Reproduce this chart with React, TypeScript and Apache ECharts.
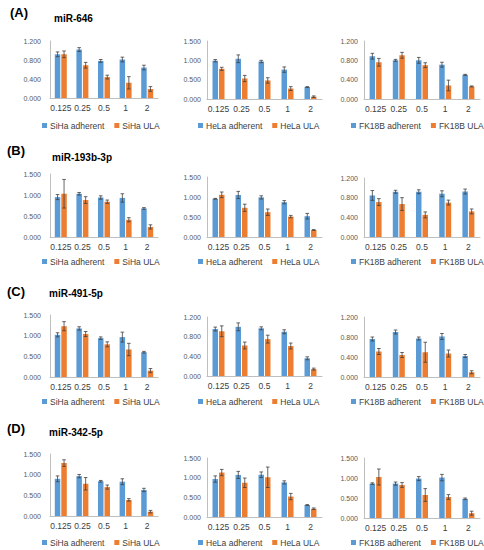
import React, { useEffect, useRef } from "react";
import * as echarts from "echarts";

const doses = ["0.125", "0.25", "0.5", "1", "2"];
const panelLetters = ["(A)", "(B)", "(C)", "(D)"];
const mirNames = ["miR-646", "miR-193b-3p", "miR-491-5p", "miR-342-5p"];
const cellLines = ["SiHa", "HeLa", "FK18B"];

// (A) miR-646
const A_SiHa_adh = [0.92, 1.02, 0.78, 0.81, 0.64];
const A_SiHa_adhErr = [0.05, 0.04, 0.03, 0.05, 0.05];
const A_SiHa_ula = [0.92, 0.69, 0.44, 0.32, 0.19];
const A_SiHa_ulaErr = [0.07, 0.06, 0.04, 0.13, 0.05];
const A_HeLa_adh = [0.99, 1.04, 0.97, 0.76, 0.31];
const A_HeLa_adhErr = [0.03, 0.1, 0.03, 0.07, 0.01];
const A_HeLa_ula = [0.78, 0.53, 0.48, 0.27, 0.06];
const A_HeLa_ulaErr = [0.04, 0.08, 0.07, 0.05, 0.02];
const A_FK18B_adh = [0.885, 0.8, 0.8, 0.71, 0.5];
const A_FK18B_adhErr = [0.06, 0.02, 0.06, 0.05, 0.01];
const A_FK18B_ula = [0.76, 0.905, 0.7, 0.28, 0.26];
const A_FK18B_ulaErr = [0.08, 0.06, 0.05, 0.11, 0.01];

// (B) miR-193b-3p
const B_SiHa_adh = [0.95, 1.03, 0.94, 0.93, 0.68];
const B_SiHa_adhErr = [0.06, 0.03, 0.04, 0.1, 0.02];
const B_SiHa_ula = [1.03, 0.88, 0.84, 0.41, 0.24];
const B_SiHa_ulaErr = [0.34, 0.08, 0.04, 0.05, 0.05];
const B_HeLa_adh = [0.955, 1.05, 0.99, 0.87, 0.52];
const B_HeLa_adhErr = [0.01, 0.09, 0.04, 0.04, 0.07];
const B_HeLa_ula = [1.055, 0.73, 0.62, 0.51, 0.175];
const B_HeLa_ulaErr = [0.07, 0.09, 0.08, 0.03, 0.01];
const B_FK18B_adh = [0.845, 0.92, 0.92, 0.88, 0.925];
const B_FK18B_adhErr = [0.1, 0.03, 0.04, 0.06, 0.05];
const B_FK18B_ula = [0.71, 0.67, 0.45, 0.7, 0.52];
const B_FK18B_ulaErr = [0.07, 0.13, 0.06, 0.05, 0.05];

// (C) miR-491-5p
const C_SiHa_adh = [1.02, 1.175, 0.94, 0.965, 0.6];
const C_SiHa_adhErr = [0.05, 0.04, 0.03, 0.12, 0.02];
const C_SiHa_ula = [1.23, 1.04, 0.79, 0.665, 0.155];
const C_SiHa_ulaErr = [0.11, 0.06, 0.06, 0.15, 0.05];
const C_HeLa_adh = [0.955, 1.0, 0.97, 0.9, 0.36];
const C_HeLa_adhErr = [0.04, 0.08, 0.03, 0.04, 0.03];
const C_HeLa_ula = [0.91, 0.62, 0.75, 0.61, 0.14];
const C_HeLa_ulaErr = [0.11, 0.07, 0.08, 0.06, 0.02];
const C_FK18B_adh = [0.76, 0.9, 0.77, 0.81, 0.42];
const C_FK18B_adhErr = [0.04, 0.04, 0.03, 0.06, 0.03];
const C_FK18B_ula = [0.51, 0.44, 0.495, 0.47, 0.095];
const C_FK18B_ulaErr = [0.06, 0.05, 0.2, 0.07, 0.03];

// (D) miR-342-5p
const D_SiHa_adh = [0.9, 0.965, 0.84, 0.83, 0.63];
const D_SiHa_adhErr = [0.07, 0.04, 0.02, 0.07, 0.04];
const D_SiHa_ula = [1.28, 0.78, 0.7, 0.39, 0.105];
const D_SiHa_ulaErr = [0.08, 0.15, 0.05, 0.03, 0.03];
const D_HeLa_adh = [0.965, 1.07, 1.075, 0.88, 0.305];
const D_HeLa_adhErr = [0.08, 0.09, 0.07, 0.04, 0.01];
const D_HeLa_ula = [1.13, 0.87, 1.01, 0.52, 0.21];
const D_HeLa_ulaErr = [0.08, 0.12, 0.26, 0.08, 0.02];
const D_FK18B_adh = [0.86, 0.86, 0.985, 1.01, 0.48];
const D_FK18B_adhErr = [0.02, 0.04, 0.05, 0.08, 0.02];
const D_FK18B_ula = [1.025, 0.825, 0.575, 0.525, 0.12];
const D_FK18B_ulaErr = [0.2, 0.06, 0.16, 0.06, 0.05];

// y-axis maxima per panel row
const yMaxA = [1.2, 1.5, 1.2];
const yMaxB = [1.5, 1.5, 1.2];
const yMaxC = [1.5, 1.2, 1.2];
const yMaxD = [1.5, 1.5, 1.5];

const panels = [
  [
    [A_SiHa_adh, A_SiHa_adhErr, A_SiHa_ula, A_SiHa_ulaErr],
    [A_HeLa_adh, A_HeLa_adhErr, A_HeLa_ula, A_HeLa_ulaErr],
    [A_FK18B_adh, A_FK18B_adhErr, A_FK18B_ula, A_FK18B_ulaErr],
  ],
  [
    [B_SiHa_adh, B_SiHa_adhErr, B_SiHa_ula, B_SiHa_ulaErr],
    [B_HeLa_adh, B_HeLa_adhErr, B_HeLa_ula, B_HeLa_ulaErr],
    [B_FK18B_adh, B_FK18B_adhErr, B_FK18B_ula, B_FK18B_ulaErr],
  ],
  [
    [C_SiHa_adh, C_SiHa_adhErr, C_SiHa_ula, C_SiHa_ulaErr],
    [C_HeLa_adh, C_HeLa_adhErr, C_HeLa_ula, C_HeLa_ulaErr],
    [C_FK18B_adh, C_FK18B_adhErr, C_FK18B_ula, C_FK18B_ulaErr],
  ],
  [
    [D_SiHa_adh, D_SiHa_adhErr, D_SiHa_ula, D_SiHa_ulaErr],
    [D_HeLa_adh, D_HeLa_adhErr, D_HeLa_ula, D_HeLa_ulaErr],
    [D_FK18B_adh, D_FK18B_adhErr, D_FK18B_ula, D_FK18B_ulaErr],
  ],
];
const yMaxes = [yMaxA, yMaxB, yMaxC, yMaxD];

// layout
const colLeft = [50, 207, 364];
const colWidth = [108, 115, 116];
const colLabelMargin = [9, 6, 6];
const gridTopBottom = [
  [[41, 98], [41, 99], [41, 99]],
  [[174, 237], [177, 237], [178, 237]],
  [[315, 377], [317, 376], [317, 377]],
  [[454, 516], [458, 517], [458, 518]],
];
const legendY = [126, 262, 402, 543];
const legendLeft = [42, 198, 351];
const letterPos = [[10, 13], [7, 151], [7, 292], [7, 429]];
const mirPos = [[54, 19], [52, 158], [49, 294], [49, 433]];

const BLUE = "#5B9BD5";
const ORANGE = "#ED7D31";
const FONT = "Liberation Sans, Arial, sans-serif";
const BAR_W = 5.5;
const BAR_GAP = 1;

function App() {
  const ref = useRef<HTMLDivElement>(null);
  useEffect(() => {
    document.body.style.margin = "0";
    if (!ref.current) return;
    const chart = echarts.init(ref.current, undefined, { renderer: "svg" });
    const grid: any[] = [];
    const xAxis: any[] = [];
    const yAxis: any[] = [];
    const series: any[] = [];
    const legend: any[] = [];
    const graphic: any[] = [];
    let idx = 0;
    panels.forEach((row, r) => {
      row.forEach((p, c) => {
        const [t, b] = gridTopBottom[r][c];
        grid.push({ left: colLeft[c], width: colWidth[c], top: t, height: b - t });
        xAxis.push({
          type: "category",
          gridIndex: idx,
          data: doses,
          axisLine: { lineStyle: { color: "#BFBFBF", width: 1 } },
          axisTick: { show: false },
          axisLabel: { fontSize: 8.5, color: "#404040", margin: 5, fontFamily: FONT, interval: 0 },
        });
        const mx = yMaxes[r][c];
        const iv = mx === 1.2 ? 0.4 : 0.5;
        yAxis.push({
          type: "value",
          gridIndex: idx,
          min: 0,
          max: mx,
          interval: iv,
          axisLine: { show: true, lineStyle: { color: "#BFBFBF", width: 1 } },
          axisTick: { show: false },
          splitLine: { show: false },
          axisLabel: {
            fontSize: 7,
            color: "#595959",
            margin: colLabelMargin[c],
            fontFamily: FONT,
            formatter: (v: number) => v.toFixed(3),
          },
        });
        const cell = cellLines[c];
        const [adh, adhErr, ula, ulaErr] = p;
        const nameA = `${cell} adherent`;
        const nameU = `${cell} ULA`;
        series.push({
          type: "bar",
          name: nameA,
          xAxisIndex: idx,
          yAxisIndex: idx,
          data: adh,
          barWidth: BAR_W,
          barGap: `${(BAR_GAP / BAR_W) * 100}%`,
          itemStyle: { color: BLUE },
        });
        series.push({
          type: "bar",
          name: nameU,
          xAxisIndex: idx,
          yAxisIndex: idx,
          data: ula,
          barWidth: BAR_W,
          barGap: `${(BAR_GAP / BAR_W) * 100}%`,
          itemStyle: { color: ORANGE },
        });
        const mkErr = (vals: number[], errs: number[], sign: number) => ({
          type: "custom",
          xAxisIndex: idx,
          yAxisIndex: idx,
          z: 10,
          silent: true,
          data: vals.map((v, i) => [i, v, errs[i]]),
          renderItem: (params: any, api: any) => {
            const x = api.value(0);
            const v = api.value(1);
            const e = api.value(2);
            const hi = api.coord([x, v + e]);
            const lo = api.coord([x, Math.max(0, v - e)]);
            const px = hi[0] + sign * (BAR_W + BAR_GAP) / 2;
            const cap = 1.8;
            const st = { stroke: "#404040", lineWidth: 0.8 };
            return {
              type: "group",
              children: [
                { type: "line", shape: { x1: px, y1: hi[1], x2: px, y2: lo[1] }, style: st },
                { type: "line", shape: { x1: px - cap, y1: hi[1], x2: px + cap, y2: hi[1] }, style: st },
                { type: "line", shape: { x1: px - cap, y1: lo[1], x2: px + cap, y2: lo[1] }, style: st },
              ],
            };
          },
        });
        series.push(mkErr(adh, adhErr, -1));
        series.push(mkErr(ula, ulaErr, 1));
        legend.push({
          data: [nameA, nameU],
          left: legendLeft[c],
          top: legendY[r] - 5,
          icon: "rect",
          itemWidth: 5,
          itemHeight: 5,
          itemGap: 10,
          padding: 0,
          selectedMode: false,
          textStyle: { fontSize: 8.5, color: "#404040", fontFamily: FONT, padding: [0, 0, 0, -2] },
        });
        idx++;
      });
      graphic.push({
        type: "text",
        left: letterPos[r][0],
        top: letterPos[r][1] - 7,
        style: { text: panelLetters[r], fill: "#000", font: `bold 13px ${FONT}` },
      });
      graphic.push({
        type: "text",
        left: mirPos[r][0],
        top: mirPos[r][1] - 6,
        style: { text: mirNames[r], fill: "#000", font: `bold 10px ${FONT}` },
      });
    });
    chart.setOption({
      animation: false,
      backgroundColor: "#fff",
      grid,
      xAxis,
      yAxis,
      series,
      legend,
      graphic,
    });
    return () => chart.dispose();
  }, []);
  return <div ref={ref} style={{ width: 484, height: 550 }} />;
}

export default App;
